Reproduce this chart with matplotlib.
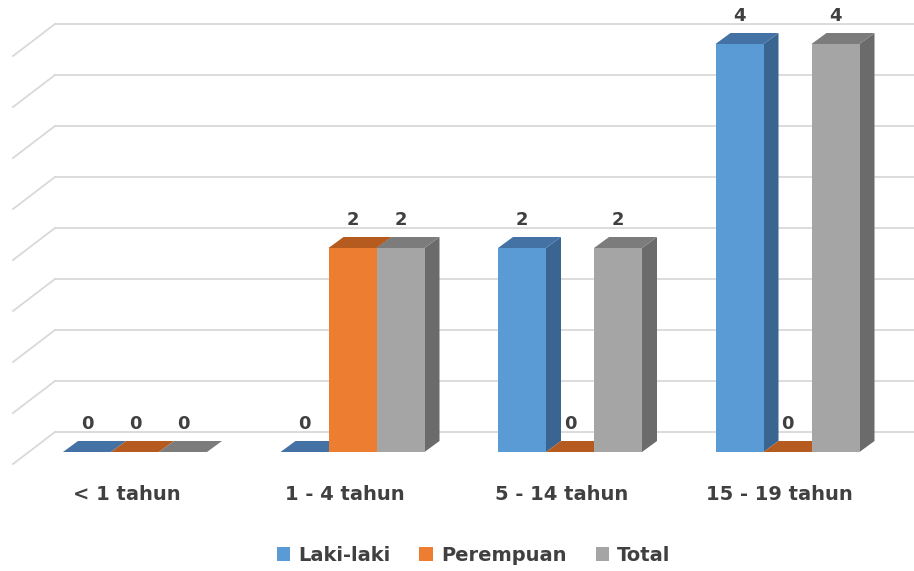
import numpy as np
import matplotlib.pyplot as plt
from matplotlib.patches import Polygon, Patch

# data
categories = ['< 1 tahun', '1 - 4 tahun', '5 - 14 tahun', '15 - 19 tahun']
series = ['Laki-laki', 'Perempuan', 'Total']
laki = [0, 0, 2, 4]
perempuan = [0, 2, 0, 0]
total = [0, 2, 2, 4]
values = [laki, perempuan, total]

# colours: front, top, side
front_c = ['#5B9BD5', '#ED7D31', '#A5A5A5']
top_c = ['#4472A4', '#B65B20', '#7C7C7C']
side_c = ['#3A6590', '#A9541D', '#6B6B6B']
txt = '#404040'
grid_c = '#D9D9D9'

# scale (px per unit) used to turn pixel depths into data units
px_x = 217.5
px_y = 102.0
bw = 48 / px_x            # bar width
ddx = 15 / px_x           # bar depth, x
ddy = 11 / px_y           # bar depth, y
wall = 20 / px_y          # back wall offset
floor_dx = 42 / px_x
floor_dy = 32 / px_y
wall_x = (55 - 135) / px_x

fig = plt.figure(figsize=(9.14, 5.71), dpi=100)
ax = fig.add_axes([0, 0, 1, 1])
ax.set_xlim(-135 / px_x, (914 - 135) / px_x)
ax.set_ylim((452 - 571) / px_y, 452 / px_y)
ax.axis('off')

# back wall gridlines with floor diagonal
for g in np.arange(0, 4.01, 0.5):
    y = g + wall
    ax.plot([wall_x, 10], [y, y], color=grid_c, lw=1.3, zorder=1)
    ax.plot([wall_x - floor_dx, wall_x], [y - floor_dy, y], color=grid_c, lw=1.3, zorder=1)

for i in range(len(categories)):
    for s in range(len(series)):
        v = values[s][i]
        x0 = i - 1.5 * bw + s * bw
        x1 = x0 + bw
        # side face
        if v > 0:
            ax.add_patch(Polygon([(x1, 0), (x1 + ddx, ddy), (x1 + ddx, v + ddy), (x1, v)],
                                 closed=True, fc=side_c[s], ec='none', zorder=2))
        # top face
        ax.add_patch(Polygon([(x0, v), (x1, v), (x1 + ddx, v + ddy), (x0 + ddx, v + ddy)],
                             closed=True, fc=top_c[s], ec='none', zorder=2))
        # front face
        if v > 0:
            ax.bar(x0, v, width=bw, align='edge', color=front_c[s], zorder=3)
        ax.text(x0 + bw / 2, v + 0.27, str(v), ha='center', va='center',
                fontsize=13, fontweight='bold', color=txt, zorder=4)
    ax.text(i - 0.037, -0.42, categories[i], ha='center', va='center',
            fontsize=14, fontweight='bold', color=txt)

handles = [Patch(fc=front_c[s], ec='none') for s in range(3)]
fig.legend(handles, series, loc='center', bbox_to_anchor=(0.518, 0.028), ncol=3,
           frameon=False, handlelength=0.7, handleheight=0.7, handletextpad=0.4,
           columnspacing=1.5, prop={'size': 14, 'weight': 'bold'}, labelcolor=txt)

fig.savefig('out.png', dpi=100)
